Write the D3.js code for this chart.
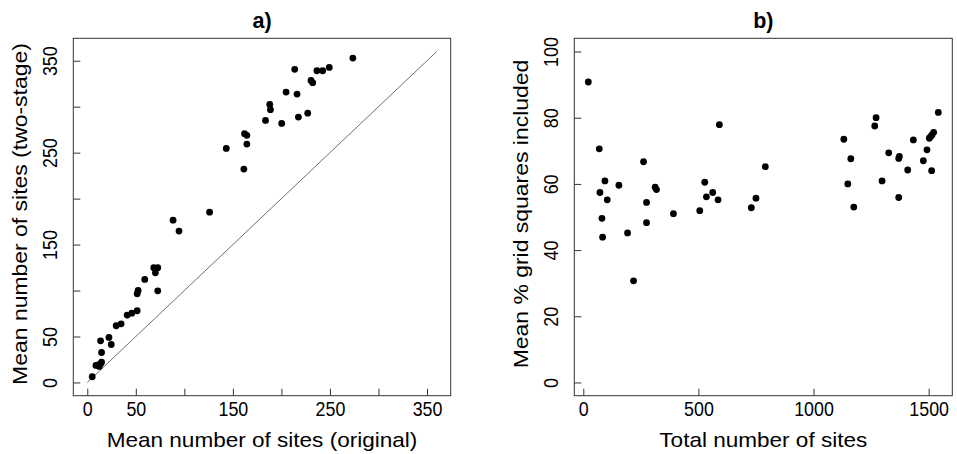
<!DOCTYPE html>
<html lang="en">
<head>
    <meta charset="UTF-8">
    <title>Sites: original vs two-stage</title>
    <script src="https://cdn.jsdelivr.net/npm/d3@7"></script>
    <style>
        body { margin: 0; background: #fff; }
        text { font-family: "Liberation Sans", Arial, sans-serif; fill: #000; }
    </style>
</head>
<body>
    <div id="container"></div>
    <script>
    // panel a) - mean number of sites, original vs two-stage
    const origSites = [5.1, 8.9, 11.3, 12.3, 13.7, 14.7, 14.7, 13.7, 22.3, 24.7, 29.8, 34.9, 41.1, 45.9, 51.4,
        51.4, 52.4, 59.2, 68.5, 72.6, 70.2, 72.6, 88.4, 94.5, 126.0, 143.2, 161.3, 162.0, 164.4, 164.4,
        183.6, 188.0, 188.7, 200.3, 204.8, 213.7, 216.1, 217.5, 227.1, 230.5, 232.2, 236.6, 242.5, 249.3, 273.6];
    const twoStageSites = [6.2, 18.5, 19.2, 17.4, 20.3, 22.1, 32.6, 45.3, 49.0, 41.3, 61.7, 63.8, 73.3, 75.4, 78.0,
        96.5, 100.1, 112.1, 124.8, 124.8, 119.3, 99.7, 176.6, 164.7, 185.3, 254.6, 232.1, 270.6, 268.8, 259.3,
        285.1, 302.5, 296.7, 281.8, 315.9, 340.6, 313.7, 288.7, 293.0, 328.6, 326.1, 339.1, 339.1, 342.7, 352.9];

    // panel b) - total number of sites vs mean % grid squares
    const totalSites = [21.7, 69.4, 72.3, 80.9, 83.8, 93.9, 104.0, 154.6, 192.2, 218.2, 261.6, 274.6, 274.6, 312.1,
        317.9, 391.6, 505.8, 527.5, 534.7, 562.1, 585.3, 591.0, 729.8, 750.0, 790.5, 1131.5, 1148.9, 1161.9,
        1174.9, 1265.9, 1271.7, 1297.7, 1326.6, 1370.0, 1372.8, 1370.0, 1409.0, 1433.5, 1476.9, 1492.8, 1513.0,
        1502.9, 1508.7, 1514.5, 1521.7, 1541.9];
    const pctGrid = [90.8, 70.6, 57.4, 49.6, 43.9, 60.9, 55.2, 59.6, 45.2, 30.7, 66.7, 54.4, 48.3, 59.0,
        58.3, 51.0, 51.9, 60.5, 56.1, 57.4, 55.2, 77.9, 52.8, 55.7, 65.2, 73.5, 60.0, 67.6,
        53.0, 77.5, 80.0, 60.9, 69.4, 67.7, 68.3, 55.9, 64.2, 73.3, 67.0, 70.3, 64.0,
        73.8, 74.3, 74.8, 75.6, 81.6];

    const aLimits = [0, 360];
    const aTicks = [0, 50, 100, 150, 200, 250, 300, 350];
    const aTickLabels = [0, 50, 150, 250, 350];
    const bYLimits = [0, 100];
    const bXTicks = [0, 500, 1000, 1500];
    const bYTicks = [0, 20, 40, 60, 80, 100];

    const width = 957, height = 454;
    const plotTop = 38.3, plotBottom = 395.7;
    const tick = 7;

    // R style 4% padding
    const pad = ([a, b]) => [a - 0.04 * (b - a), b + 0.04 * (b - a)];

    const svg = d3.select("#container").append("svg")
        .attr("width", width)
        .attr("height", height);

    function panel(opt) {
        const x = d3.scaleLinear().domain(pad(opt.xlim)).range([opt.left, opt.right]);
        const y = d3.scaleLinear().domain(pad(opt.ylim)).range([plotBottom, plotTop]);
        const g = svg.append("g");
        const cx = (opt.left + opt.right) / 2, cy = (plotTop + plotBottom) / 2;

        if (opt.line) {
            g.append("line")
                .attr("x1", x(opt.line[0])).attr("y1", y(opt.line[0]))
                .attr("x2", x(opt.line[1])).attr("y2", y(opt.line[1]))
                .attr("stroke", "#707070").attr("stroke-width", 1);
        }

        g.append("g")
            .selectAll("circle")
            .data(opt.xs.map((d, i) => [d, opt.ys[i]]))
            .join("circle")
            .attr("cx", d => x(d[0]))
            .attr("cy", d => y(d[1]))
            .attr("r", 3.4)
            .attr("fill", "#000");

        const fmtX = d => opt.xLabels.includes(d) ? d : "";
        const fmtY = d => opt.yLabels.includes(d) ? d : "";

        const gx = g.append("g")
            .attr("transform", `translate(0,${plotBottom})`)
            .call(d3.axisBottom(x).tickValues(opt.xTicks).tickSize(-tick).tickFormat(fmtX));
        gx.select(".domain").remove();
        gx.selectAll("line").attr("stroke", "#333");
        gx.selectAll("text")
            .attr("y", 0).attr("dy", 0)
            .attr("font-size", 20.5)
            .attr("transform", "translate(0,20) scale(0.87,1)");

        const gy = g.append("g")
            .attr("transform", `translate(${opt.left},0)`)
            .call(d3.axisLeft(y).tickValues(opt.yTicks).tickSize(-tick).tickFormat(fmtY));
        gy.select(".domain").remove();
        gy.selectAll("line").attr("stroke", "#333");
        gy.selectAll("text")
            .attr("x", 0).attr("y", 0).attr("dy", 0)
            .attr("text-anchor", "middle")
            .attr("font-size", 20.5)
            .attr("transform", "translate(-16.5,0) rotate(-90) scale(0.87,1)");

        g.append("rect")
            .attr("x", opt.left).attr("y", plotTop)
            .attr("width", opt.right - opt.left).attr("height", plotBottom - plotTop)
            .attr("fill", "none").attr("stroke", "#333").attr("stroke-width", 1);

        g.append("text")
            .attr("text-anchor", "middle")
            .attr("font-size", 20.5)
            .attr("transform", `translate(${cx},447) scale(1.1,1)`)
            .text(opt.xTitle);

        g.append("text")
            .attr("text-anchor", "middle")
            .attr("font-size", 20.5)
            .attr("transform", `translate(${opt.left - 46},${cy - 3}) rotate(-90) scale(1.12,1)`)
            .text(opt.yTitle);

        g.append("text")
            .attr("text-anchor", "middle")
            .attr("font-size", 21.5)
            .attr("font-weight", "bold")
            .attr("x", cx).attr("y", 28)
            .text(opt.title);
    }

    panel({
        left: 73.3, right: 450.7,
        xlim: aLimits, ylim: aLimits,
        xs: origSites, ys: twoStageSites,
        line: aLimits,
        xTicks: aTicks, yTicks: aTicks,
        xLabels: aTickLabels, yLabels: aTickLabels,
        xTitle: "Mean number of sites (original)",
        yTitle: "Mean number of sites (two-stage)",
        title: "a)"
    });

    panel({
        left: 574.3, right: 952.3,
        xlim: d3.extent(totalSites), ylim: bYLimits,
        xs: totalSites, ys: pctGrid,
        xTicks: bXTicks, yTicks: bYTicks,
        xLabels: bXTicks, yLabels: bYTicks,
        xTitle: "Total number of sites",
        yTitle: "Mean % grid squares included",
        title: "b)"
    });
    </script>
</body>
</html>
